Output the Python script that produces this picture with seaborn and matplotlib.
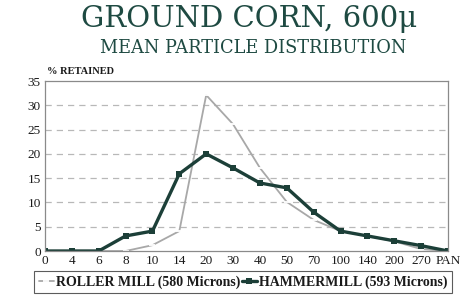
import matplotlib
matplotlib.use("Agg")
import matplotlib.pyplot as plt
import seaborn as sns
import pandas as pd

sizes = ["0", "4", "6", "8", "10", "14", "20", "30", "40", "50", "70", "100", "140", "200", "270", "PAN"]
roller_mill = [0, 0, 0, 0, 1.2, 4.1, 32.1, 26.1, 17.1, 10.1, 6.4, 4.1, 3.1, 2.0, 0.4, 0]
hammermill = [0, 0, 0, 3.1, 4.1, 15.9, 20.0, 17.1, 14.0, 13.0, 8.0, 4.1, 3.1, 2.1, 1.1, 0]
series_names = ["ROLLER MILL (580 Microns)", "HAMMERMILL (593 Microns)"]
y_ticks = [0, 5, 10, 15, 20, 25, 30, 35]

df = pd.DataFrame({
    "size": sizes * 2,
    "pos": list(range(len(sizes))) * 2,
    "value": roller_mill + hammermill,
    "series": [series_names[0]] * len(sizes) + [series_names[1]] * len(sizes),
})

sns.set_theme(style="white")
plt.rcParams["font.family"] = ["Liberation Serif", "DejaVu Serif"]

fig = plt.figure(figsize=(4.71, 3.04), dpi=100)
ax = fig.add_axes([45 / 471, 1 - 251 / 304, 403 / 471, 170 / 304])

palette = {series_names[0]: "#a8a8a8", series_names[1]: "#1c3f38"}
sns.lineplot(data=df[df.series == series_names[0]], x="pos", y="value", ax=ax,
             color=palette[series_names[0]], lw=1.3, marker="_", markersize=5,
             markeredgewidth=1.3, sort=False, label=series_names[0], legend=False)
sns.lineplot(data=df[df.series == series_names[1]], x="pos", y="value", ax=ax,
             color=palette[series_names[1]], lw=2.4, marker="s", markersize=4.5,
             markeredgewidth=0, sort=False, label=series_names[1], legend=False)

ax.set_xlim(0, len(sizes) - 1)
ax.set_ylim(0, 35)
ax.set_xticks(range(len(sizes)))
ax.set_xticklabels(sizes)
ax.set_yticks(y_ticks)
ax.set_xlabel("")
ax.set_ylabel("")
ax.tick_params(axis="both", labelsize=9.5, colors="#1a1a1a", length=0, pad=3)
for yv in y_ticks[1:-1]:
    ax.axhline(yv, color="#b8b8b8", lw=0.9, ls=(0, (5, 4)), zorder=0)
for s in ax.spines.values():
    s.set_color("#8a8a8a")
    s.set_linewidth(0.9)

fig.text(249 / 471, 1 - 19 / 304, "GROUND CORN, 600\u03bc", ha="center", va="center",
         fontsize=21, color="#1e4a42", family="DejaVu Serif")
fig.text(253 / 471, 1 - 48 / 304, "MEAN PARTICLE DISTRIBUTION", ha="center", va="center",
         fontsize=12.8, color="#1e4a42", family="DejaVu Serif")
fig.text(47 / 471, 1 - 72 / 304, "% RETAINED", ha="left", va="center",
         fontsize=7.5, fontweight="bold", color="#1a1a1a")

handles, labels = ax.get_legend_handles_labels()
leg = fig.legend(handles, labels, ncol=2, loc="center", bbox_to_anchor=(243 / 471, 1 - 282 / 304),
                 frameon=True, fancybox=False, prop={"size": 10, "weight": "bold"},
                 handlelength=1.1, handletextpad=0.15, columnspacing=0.1, borderpad=0.3)
leg.get_frame().set_edgecolor("#333333")
leg.get_frame().set_linewidth(0.8)
for t in leg.get_texts():
    t.set_color("#1a1a1a")

fig.savefig("out.png", dpi=100)
